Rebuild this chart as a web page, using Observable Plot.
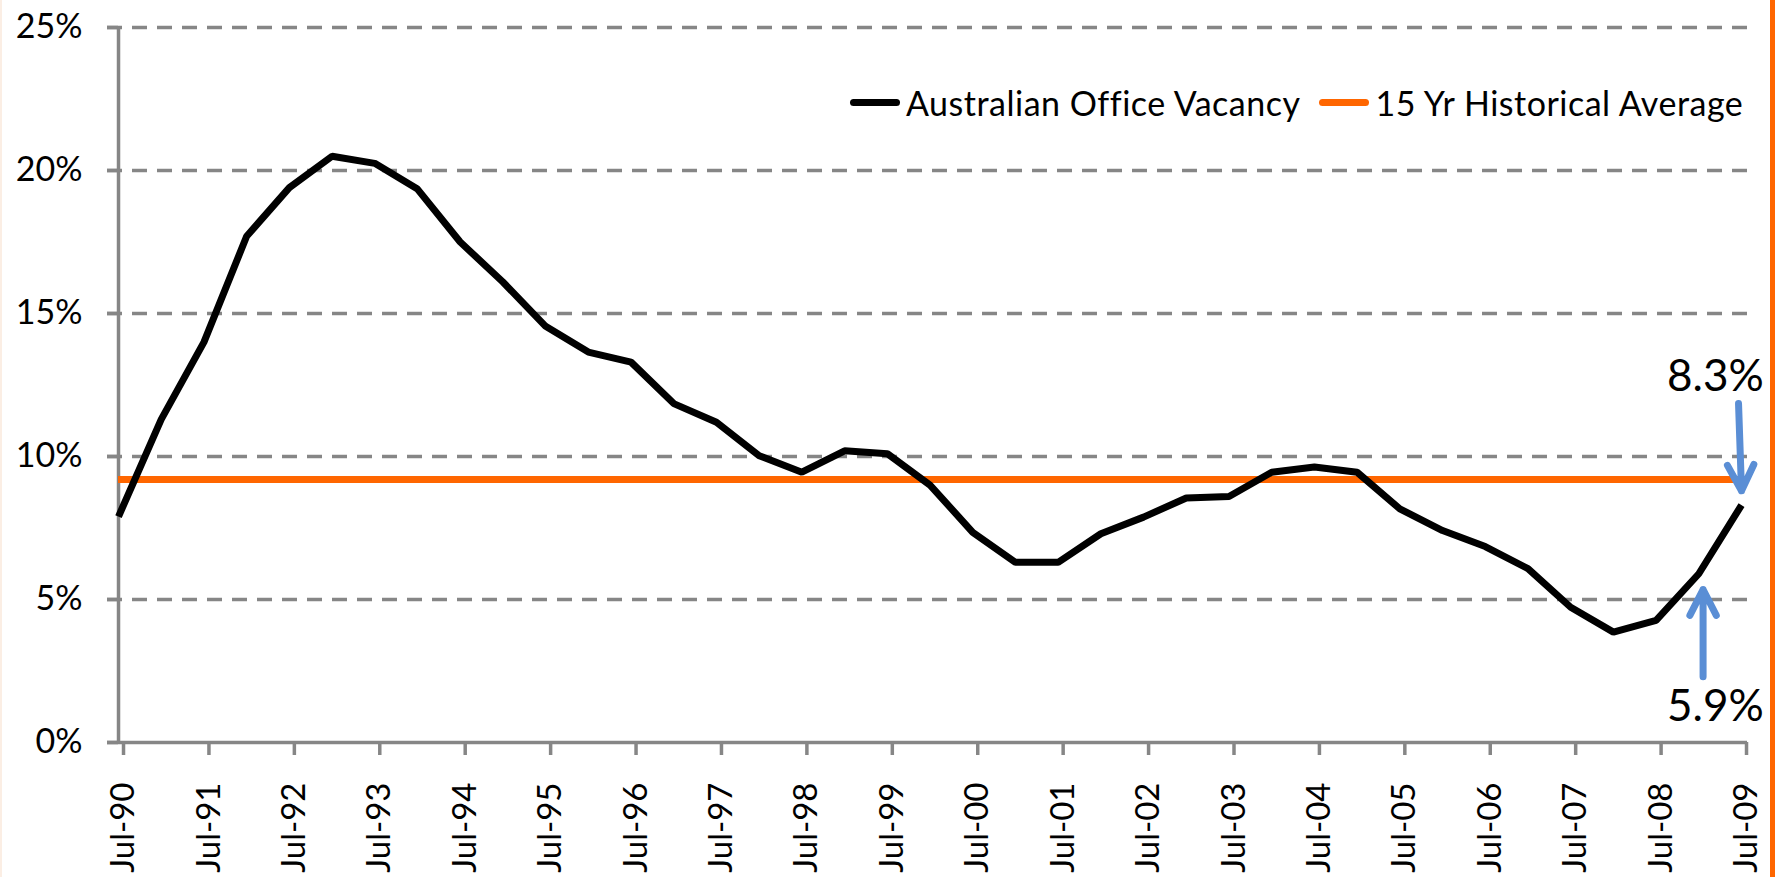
<!DOCTYPE html>
<html><head><meta charset="utf-8">
<script src="https://cdn.jsdelivr.net/npm/d3@7"></script>
<script src="https://cdn.jsdelivr.net/npm/@observablehq/plot@0.6"></script>
<style>
html,body{margin:0;padding:0;background:#fff;}
#wrap{position:relative;width:1776px;height:877px;overflow:hidden;font-family:Lato,sans-serif;background:#fff;}
#wrap::after{content:"";position:absolute;top:0;bottom:0;right:1px;width:5px;background:#FF6600;}
#wrap::before{content:"";position:absolute;top:0;bottom:0;left:0;width:2px;background:#fbeee4;}
.legend{position:absolute;left:850px;top:82px;height:40px;display:flex;align-items:center;font-size:34px;letter-spacing:0.5px;color:#000;white-space:nowrap;}
.sw{display:inline-block;width:50px;height:7px;border-radius:3.5px;margin-right:6px;}
.gap{display:inline-block;width:19px;}
</style></head><body><div id="wrap"></div>
<script>
// ---- data ----
const periods = ["Jul-90","Jan-91","Jul-91","Jan-92","Jul-92","Jan-93","Jul-93","Jan-94","Jul-94","Jan-95",
  "Jul-95","Jan-96","Jul-96","Jan-97","Jul-97","Jan-98","Jul-98","Jan-99","Jul-99","Jan-00",
  "Jul-00","Jan-01","Jul-01","Jan-02","Jul-02","Jan-03","Jul-03","Jan-04","Jul-04","Jan-05",
  "Jul-05","Jan-06","Jul-06","Jan-07","Jul-07","Jan-08","Jul-08","Jan-09","Jul-09"];
const vacancy = [7.9, 11.3, 14.0, 17.7, 19.4, 20.5, 20.25, 19.35, 17.5, 16.1,
  14.55, 13.65, 13.3, 11.85, 11.2, 10.03, 9.45, 10.2, 10.1, 9.0,
  7.35, 6.3, 6.3, 7.3, 7.88, 8.55, 8.6, 9.45, 9.63, 9.45,
  8.17, 7.41, 6.85, 6.08, 4.73, 3.86, 4.27, 5.9, 8.3];
const historicalAverage = 9.2;
const yTicks = [0, 5, 10, 15, 20, 25];
const seriesNames = ["Australian Office Vacancy", "15 Yr Historical Average"];
const seriesColors = ["#000000", "#FF6600"];
const annotations = [
  {period: "Jul-09", label: "8.3%", dir: "down"},
  {period: "Jan-09", label: "5.9%", dir: "up"}
];

// ---- build ----
const data = periods.map((p, i) => ({i, period: p, value: vacancy[i]}));
const julIdx = periods.map((p, i) => p.startsWith("Jul") ? i : -1).filter(i => i >= 0);
const last = periods.length - 1;
const xmin = -0.258, xmax = last + 0.14;
const grey = "#868686";
const ann = annotations.map(a => {
  const i = periods.indexOf(a.period), v = vacancy[i];
  return a.dir === "down"
    ? {...a, x1: i - 0.07, y1: v + 3.55, x2: i, y2: v + 0.5, tx: last + 0.52, ty: v + 4.5}
    : {...a, x1: i + 0.1, y1: v - 3.6, x2: i + 0.1, y2: v - 0.55, tx: last + 0.52, ty: v - 4.64};
});

const chart = Plot.plot({
  width: 1776, height: 877,
  marginLeft: 107, marginRight: 29, marginTop: 27, marginBottom: 135,
  style: {fontFamily: "Lato, sans-serif", fontSize: "32px", background: "white", overflow: "visible"},
  x: {type: "linear", domain: [xmin, xmax]},
  y: {domain: [0, 25]},
  marks: [
    Plot.ruleY(yTicks.filter(d => d > 0), {stroke: grey, strokeWidth: 3.5, strokeDasharray: "15,10"}),
    Plot.ruleY(yTicks, {x1: xmin, x2: 0, stroke: grey, strokeWidth: 3.5}),
    Plot.ruleY([0], {stroke: grey, strokeWidth: 3.5}),
    Plot.ruleX([0], {y1: 0, y2: 25, stroke: grey, strokeWidth: 3.5}),
    Plot.axisY({ticks: yTicks, tickSize: 0, tickPadding: 25, tickFormat: d => d + "%", fontSize: 34, fill: "black"}),
    Plot.axisX({ticks: julIdx, tickSize: 13, tickPadding: 27, tickRotate: -90, tickFormat: i => periods[i],
      fontSize: 33, stroke: grey, strokeWidth: 3.5, fill: "black", dx: 5}),
    Plot.ruleY([historicalAverage], {x1: 0, x2: xmax, stroke: seriesColors[1], strokeWidth: 7}),
    Plot.line(data, {x: "i", y: "value", stroke: seriesColors[0], strokeWidth: 7, strokeLinecap: "butt", strokeLinejoin: "miter"}),
    Plot.arrow(ann, {x1: "x1", y1: "y1", x2: "x2", y2: "y2", stroke: "#5A8ED5", strokeWidth: 7, headLength: 8, headAngle: 54, strokeLinecap: "round"}),
    Plot.text(ann, {x: "tx", y: "ty", text: "label", textAnchor: "end", lineAnchor: "middle", fontSize: 44, fill: "black"})
  ]
});

const wrap = document.getElementById("wrap");
wrap.appendChild(chart);
const legend = document.createElement("div");
legend.className = "legend";
legend.innerHTML = seriesNames.map((n, k) =>
  (k ? '<span class="gap"></span>' : '') +
  `<span class="sw" style="background:${seriesColors[k]}"></span><span>${n}</span>`).join("");
wrap.appendChild(legend);
</script></body></html>
